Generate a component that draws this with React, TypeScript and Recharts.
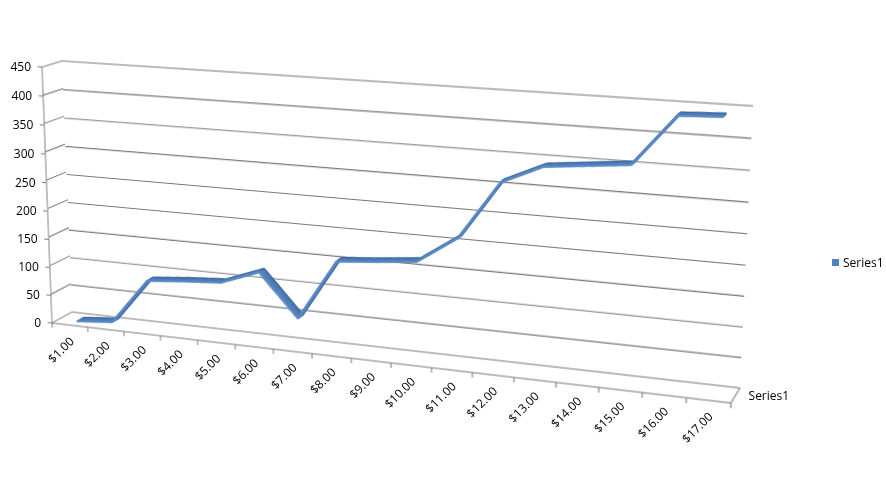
import { LineChart, Line, XAxis, YAxis, ReferenceLine, Legend } from 'recharts'

const categories = [
  '$1.00', '$2.00', '$3.00', '$4.00', '$5.00', '$6.00', '$7.00', '$8.00', '$9.00',
  '$10.00', '$11.00', '$12.00', '$13.00', '$14.00', '$15.00', '$16.00', '$17.00',
]
const series1 = [0, 6, 87, 93, 98, 123, 50, 155, 161, 168, 214, 311, 342, 349, 356, 438, 441]
const yTicks = [0, 50, 100, 150, 200, 250, 300, 350, 400, 450]
const seriesName = 'Series1'

const data = categories.map((label, i) => ({ pos: i + 1, label, value: series1[i] }))
const xBounds = categories.map((_, i) => i + 0.5).concat(categories.length + 0.5)
const xDomain = [0.5, categories.length + 0.5]

// page and flat plot size (each plane is drawn flat, then warped onto the 3D box)
const W = 886
const H = 502
const FW = 680
const FH = 260
const M = 20
const AX = 10
const CW = FW + 2 * M
const CH = FH + 2 * M

type Pt = [number, number]
// corners: top-left, top-right, bottom-right, bottom-left
const BACK: Pt[] = [[62, 61], [753, 106], [740, 388], [72, 312]]
const FRONT: Pt[] = [[42, 67], [744, 116], [731, 403], [52, 323]]
const SIDE: Pt[] = [FRONT[0], BACK[0], BACK[3], FRONT[3]]
const FLOOR: Pt[] = [BACK[3], BACK[2], FRONT[2], FRONT[3]]

const GRID = '#787878'
const BLUE = '#4F81BD'

function homography(q: Pt[]) {
  const [[x0, y0], [x1, y1], [x2, y2], [x3, y3]] = q
  const dx1 = x1 - x2, dx2 = x3 - x2, dx3 = x0 - x1 + x2 - x3
  const dy1 = y1 - y2, dy2 = y3 - y2, dy3 = y0 - y1 + y2 - y3
  const den = dx1 * dy2 - dx2 * dy1
  const g = (dx3 * dy2 - dx2 * dy3) / den
  const h = (dx1 * dy3 - dx3 * dy1) / den
  const a = x1 - x0 + g * x1, b = x3 - x0 + h * x3, c = x0
  const d = y1 - y0 + g * y1, e = y3 - y0 + h * y3, f = y0
  return {
    A: a / FW, B: b / FH, C: c - (a * M) / FW - (b * M) / FH,
    D: d / FW, E: e / FH, F: f - (d * M) / FW - (e * M) / FH,
    G: g / FW, H: h / FH, I: 1 - (g * M) / FW - (h * M) / FH,
  }
}

type Hom = ReturnType<typeof homography>

function project(m: Hom, x: number, y: number): Pt {
  const w = m.G * x + m.H * y + m.I
  return [(m.A * x + m.B * y + m.C) / w, (m.D * x + m.E * y + m.F) / w]
}

function toCss(m: Hom) {
  return `matrix3d(${m.A},${m.D},0,${m.G},${m.B},${m.E},0,${m.H},0,0,1,0,${m.C},${m.F},0,${m.I})`
}

function lerpQuad(a: Pt[], b: Pt[], t: number): Pt[] {
  return a.map((p, i) => [p[0] + (b[i][0] - p[0]) * t, p[1] + (b[i][1] - p[1]) * t] as Pt)
}

const H_FRONT = homography(FRONT)
const H_FLOOR = homography(FLOOR)

interface PlaneProps {
  quad: Pt[]
  left?: boolean
  right?: boolean
  bottom?: boolean
  children: any
}

// plot area is always (M, M, FW, FH); visible axes eat AX px of the margin
function Plane({ quad, left, right, bottom, children }: PlaneProps) {
  const margin = {
    top: M,
    right: right ? M - AX : M,
    bottom: bottom ? M - AX : M,
    left: left ? M - AX : M,
  }
  return (
    <div
      style={{
        position: 'absolute', left: 0, top: 0, width: CW, height: CH,
        transformOrigin: '0 0', transform: toCss(homography(quad)),
      }}
    >
      <LineChart width={CW} height={CH} data={data} margin={margin}>
        {children}
      </LineChart>
    </div>
  )
}

const noLabel = () => <g />

const hiddenX = <XAxis dataKey="pos" type="number" domain={xDomain} hide />
const hiddenY = <YAxis dataKey="value" domain={[0, 450]} ticks={yTicks} interval={0} hide />

const gridLines = yTicks.map((v) => (
  <ReferenceLine key={v} y={v} stroke={GRID} strokeWidth={1.1} ifOverflow="extendDomain" />
))

// ribbon depth slices, back to front
const RIBBON = [
  { d: 0.32, color: '#2A5288', w: 1.3 },
  { d: 0.36, color: '#3A6AA6', w: 1.5 },
  { d: 0.4, color: '#416FAB', w: 1.5 },
  { d: 0.44, color: '#4574AF', w: 1.5 },
  { d: 0.48, color: '#4877B3', w: 1.5 },
  { d: 0.52, color: '#4A7AB6', w: 1.5 },
  { d: 0.56, color: '#4C7CB8', w: 1.5 },
  { d: 0.6, color: BLUE, w: 1.5 },
  { d: 0.64, color: '#5384BF', w: 1.5 },
  { d: 0.68, color: '#5F8DC6', w: 1.2 },
]

function XTick(props: any) {
  const { payload } = props
  const [px, py] = project(H_FRONT, payload.coordinate, M + FH)
  return (
    <text
      transform={`translate(${px + 5},${py + 17}) rotate(-45)`}
      textAnchor="end"
      fontSize={12}
      fontFamily='"Open Sans", sans-serif'
      fill="#000"
    >
      {categories[payload.value - 1]}
    </text>
  )
}

function YTick(props: any) {
  const { payload } = props
  const [px, py] = project(H_FRONT, M, payload.coordinate)
  return (
    <text x={px - 11} y={py + 4} textAnchor="end" fontSize={12} fontFamily='"Open Sans", sans-serif' fill="#000">
      {payload.value}
    </text>
  )
}

export default function App() {
  const depthLabel = project(H_FLOOR, M + FW, M + FH / 2)

  return (
    <div
      style={{
        position: 'fixed', left: 0, top: 0, width: W, height: H, background: '#fff',
        overflow: 'hidden', fontFamily: '"Open Sans", sans-serif',
      }}
    >
      {/* back wall */}
      <Plane quad={BACK}>
        {hiddenX}
        {hiddenY}
        {gridLines}
      </Plane>

      {/* left side wall */}
      <Plane quad={SIDE}>
        {hiddenX}
        {hiddenY}
        {gridLines}
      </Plane>

      {/* floor, right edge = depth axis */}
      <Plane quad={FLOOR} right>
        {hiddenX}
        <YAxis
          orientation="right"
          domain={[0, 1]}
          ticks={[1]}
          interval={0}
          width={AX}
          tick={noLabel}
          tickSize={5}
          stroke={GRID}
        />
      </Plane>

      {/* front plane: value axis and category axis */}
      <Plane quad={FRONT} left bottom>
        <XAxis
          dataKey="pos"
          type="number"
          domain={xDomain}
          ticks={xBounds}
          interval={0}
          height={AX}
          tick={noLabel}
          tickSize={5}
          stroke={GRID}
        />
        <YAxis
          dataKey="value"
          domain={[0, 450]}
          ticks={yTicks}
          interval={0}
          width={AX}
          tick={noLabel}
          tickSize={5}
          stroke={GRID}
        />
      </Plane>

      {/* the ribbon */}
      {RIBBON.map((r) => (
        <Plane key={r.d} quad={lerpQuad(BACK, FRONT, r.d)}>
          {hiddenX}
          {hiddenY}
          <Line
            type="linear"
            dataKey="value"
            stroke={r.color}
            strokeWidth={r.w}
            strokeLinejoin="round"
            dot={false}
            activeDot={false}
            isAnimationActive={false}
          />
        </Plane>
      ))}

      {/* labels, drawn flat */}
      <div style={{ position: 'absolute', left: 0, top: 0 }}>
        <LineChart
          width={W}
          height={H}
          data={data}
          margin={{ top: M, left: M - AX, right: W - M - FW, bottom: H - M - FH - AX }}
        >
          <XAxis
            dataKey="pos"
            type="number"
            domain={xDomain}
            ticks={data.map((d) => d.pos)}
            interval={0}
            height={AX}
            axisLine={false}
            tickLine={false}
            tick={(p: any) => <XTick {...p} />}
          />
          <YAxis
            dataKey="value"
            domain={[0, 450]}
            ticks={yTicks}
            interval={0}
            width={AX}
            axisLine={false}
            tickLine={false}
            tick={(p: any) => <YTick {...p} />}
          />
          <Line
            dataKey="value"
            name={seriesName}
            stroke={BLUE}
            strokeOpacity={0}
            dot={false}
            activeDot={false}
            legendType="square"
            isAnimationActive={false}
          />
          <Legend
            layout="horizontal"
            align="center"
            verticalAlign="middle"
            iconSize={7}
            formatter={(v: any) => <span style={{ color: '#000', fontSize: 12 }}>{v}</span>}
            wrapperStyle={{ left: 832, top: 250, width: 'auto' }}
          />
        </LineChart>
      </div>

      <div
        style={{
          position: 'absolute', left: depthLabel[0] + 13, top: depthLabel[1] - 7,
          fontSize: 12, lineHeight: '16px', color: '#000',
        }}
      >
        {seriesName}
      </div>
    </div>
  )
}
